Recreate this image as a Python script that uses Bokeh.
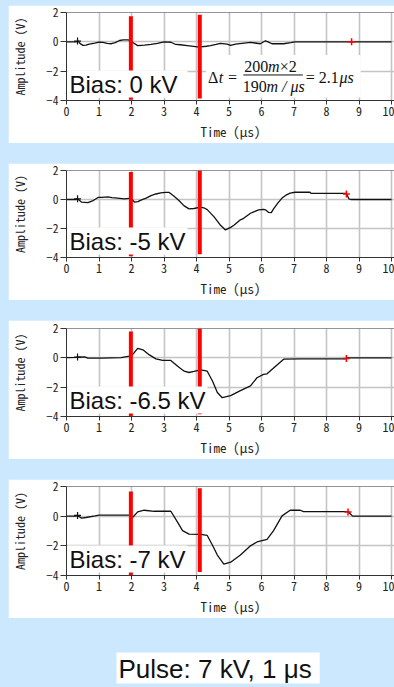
from bokeh.plotting import figure
from bokeh.models import (Range1d, FixedTicker, Label, BoxAnnotation, Span, Arrow,
                          GlobalInlineStyleSheet)
from bokeh.layouts import column
from bokeh.embed import file_html
from bokeh.resources import INLINE

BG = "#cce8ff"
MONO = "'Noto Sans Mono CJK JP', 'DejaVu Sans Mono', monospace"

# ---------------- data ----------------
t_0kv = [0, 0.3, 0.36, 0.42, 0.51, 0.6, 0.7, 0.87, 1.0, 1.12, 1.25, 1.38, 1.5, 1.63, 1.75,
         1.89, 1.98, 2.04, 2.19, 2.4, 2.6, 2.8, 3.0, 3.21, 3.36, 3.5, 3.72, 4.03, 4.13, 4.3,
         4.43, 4.6, 4.74, 4.94, 5.05, 5.2, 5.4, 5.66, 5.8, 5.96, 6.12, 6.2, 6.32, 6.5, 6.68,
         6.9, 7.03, 8.77, 10]
v_0kv = [0, 0, 0.05, -0.12, -0.24, -0.22, -0.15, -0.09, -0.02, -0.04, -0.1, -0.13, -0.05, 0.09,
         0.13, 0.13, 0.08, -0.05, -0.26, -0.22, -0.18, -0.1, 0.0, -0.03, -0.18, -0.2, -0.26,
         -0.35, -0.35, -0.3, -0.26, -0.18, -0.11, -0.15, -0.24, -0.15, -0.1, -0.04, -0.08,
         -0.13, 0.07, 0.0, -0.13, -0.12, -0.13, -0.05, 0.0, 0.0, 0.0]

t_5kv = [0, 0.3, 0.34, 0.46, 0.66, 0.8, 0.97, 1.1, 1.27, 1.4, 1.57, 1.78, 1.99, 2.09, 2.2, 2.29,
         2.45, 2.6, 2.75, 2.9, 3.05, 3.16, 3.31, 3.45, 3.62, 3.77, 3.92, 4.13, 4.25, 4.33, 4.54,
         4.74, 4.89, 5.05, 5.15, 5.35, 5.45, 5.66, 5.76, 5.91, 6.06, 6.12, 6.22, 6.3, 6.37, 6.5,
         6.63, 6.75, 6.88, 7.03, 7.49, 7.52, 8.61, 8.69, 8.75, 10]
v_5kv = [0, 0, 0.05, -0.18, -0.22, -0.1, 0.14, 0.15, 0.18, 0.13, 0.1, 0.04, 0.1, -0.18, -0.15,
         -0.04, 0.1, 0.27, 0.38, 0.45, 0.49, 0.49, 0.22, -0.05, -0.44, -0.65, -0.62, -0.53,
         -0.6, -0.7, -1.2, -1.78, -2.1, -1.92, -1.78, -1.4, -1.3, -0.95, -0.85, -0.72, -0.68,
         -0.71, -0.89, -0.9, -0.65, -0.25, 0.1, 0.3, 0.44, 0.5, 0.5, 0.42, 0.42, 0.04, 0.0, 0.0]

t_65kv = [0, 0.3, 0.34, 0.56, 0.66, 1.07, 1.68, 1.94, 2.04, 2.19, 2.35, 2.55, 2.75, 2.96, 3.21,
          3.42, 3.62, 3.77, 3.92, 4.13, 4.33, 4.49, 4.64, 4.79, 5.05, 5.35, 5.66, 5.86, 6.06,
          6.17, 6.37, 6.68, 7.19, 8.61, 8.65, 10]
v_65kv = [0.02, 0.03, 0.05, 0.07, -0.02, -0.02, 0.02, 0.11, 0.24, 0.64, 0.55, 0.2, -0.07, -0.18,
          -0.18, -0.58, -0.91, -1.0, -0.93, -0.82, -0.91, -1.58, -2.36, -2.72, -2.58, -2.24,
          -1.91, -1.36, -1.13, -1.09, -0.69, -0.09, -0.07, -0.07, 0.0, 0.0]

t_7kv = [0, 0.3, 0.34, 0.46, 0.6, 0.88, 1.0, 1.94, 2.04, 2.19, 2.39, 2.7, 3.21, 3.42, 3.57, 3.77,
         4.13, 4.33, 4.49, 4.64, 4.84, 5.05, 5.35, 5.66, 5.86, 6.17, 6.37, 6.63, 6.88, 7.19,
         7.29, 8.66, 8.8, 10]
v_7kv = [0, 0, 0.05, -0.13, -0.09, 0.02, 0.07, 0.07, -0.07, 0.29, 0.4, 0.33, 0.33, -0.42, -0.97,
         -1.21, -1.23, -1.3, -1.96, -2.62, -3.23, -3.1, -2.62, -2.0, -1.74, -1.56, -0.97, 0.02,
         0.4, 0.4, 0.31, 0.31, 0.0, 0.0]

times = [t_0kv, t_5kv, t_65kv, t_7kv]
amps = [v_0kv, v_5kv, v_65kv, v_7kv]
bias_labels = ["Bias: 0 kV", "Bias: -5 kV", "Bias: -6.5 kV", "Bias: -7 kV"]

start_mark_t = [0.34, 0.34, 0.34, 0.34]
start_mark_v = [0.05, 0.05, 0.05, 0.05]
end_mark_t = [8.77, 8.61, 8.61, 8.66]
end_mark_v = [0.0, 0.38, -0.05, 0.28]

bar_t = [1.98, 4.10]
bar_top = [[1.74, 1.85], [1.89, 2.0], [1.8, 2.0], [1.67, 1.89]]
bar_bottom = [[-3.95, -3.87], [-3.92, -3.78], [-3.97, -3.85], [-3.97, -3.76]]

x_ticks = list(range(0, 11))
y_ticks = [-4, -2, 0, 2]

# layout (pixels)
W = 386
FRAME_LEFT = 57
panel_h = [138, 137, 139, 139]
border_top = [7, 7, 8, 7]
border_bottom = [40, 40, 41, 40]
label_pad_right = [10, 2, 2, 2]


def make_panel(i):
    p = figure(width=W, height=panel_h[i], x_range=Range1d(0, 10.09), y_range=Range1d(-4, 2),
               toolbar_location=None, output_backend="svg",
               min_border_left=FRAME_LEFT, min_border_right=0,
               min_border_top=border_top[i], min_border_bottom=border_bottom[i])
    p.background_fill_color = "white"
    p.border_fill_color = "white"
    p.outline_line_color = None

    for ax in (p.xaxis[0], p.yaxis[0]):
        ax.axis_line_color = "#333333"
        ax.major_tick_line_color = "#333333"
        ax.minor_tick_line_color = None
        ax.major_tick_in = 0
        ax.major_label_text_font = MONO
        ax.major_label_text_color = "#222222"
        ax.axis_label_text_font = MONO
        ax.axis_label_text_font_style = "normal"
        ax.axis_label_text_color = "#222222"

    p.xaxis.ticker = FixedTicker(ticks=x_ticks)
    p.yaxis.ticker = FixedTicker(ticks=y_ticks)
    p.xaxis.major_label_text_font_size = "12px"
    p.xaxis.major_tick_out = 4
    p.xaxis.major_label_standoff = 2
    p.xaxis.axis_label = "Time (μs)"
    p.xaxis.axis_label_text_font_size = "13px"
    p.xaxis.axis_label_standoff = 3
    p.yaxis.major_label_text_font_size = "11.5px"
    p.yaxis.major_tick_out = 6
    p.yaxis.major_label_standoff = 2
    p.yaxis.axis_label = "Amplitude (V)"
    p.yaxis.axis_label_text_font_size = "12px"
    p.yaxis.axis_label_standoff = 15

    p.xgrid.ticker = FixedTicker(ticks=x_ticks)
    p.ygrid.ticker = FixedTicker(ticks=y_ticks)
    for g in (p.xgrid[0], p.ygrid[0]):
        g.grid_line_color = "#c4c4c4"
        g.grid_line_width = 1.6

    p.add_layout(Span(location=2, dimension="width", line_color="#333333", line_width=1))

    p.line(times[i], amps[i], line_color="#111111", line_width=1.3)
    p.scatter([start_mark_t[i]], [start_mark_v[i]], marker="cross", size=7,
              line_color="#111111", line_width=1.2)
    p.scatter([end_mark_t[i]], [end_mark_v[i]], marker="cross", size=7,
              line_color="#ff0000", line_width=1.5)
    p.segment(x0=bar_t, x1=bar_t, y0=bar_bottom[i], y1=bar_top[i],
              line_color="#ff0000", line_width=4)

    p.add_layout(Label(x=0, y=-4, x_offset=1, y_offset=3, text=bias_labels[i],
                       text_font="Liberation Sans", text_font_size="24px",
                       text_color="#111111", text_align="left", text_baseline="bottom",
                       background_fill_color="white", background_fill_alpha=1.0,
                       padding=dict(left=2, right=label_pad_right[i], top=0, bottom=0)))
    return p


panels = [make_panel(i) for i in range(4)]

# equation in the first panel
p1 = panels[0]
p1.add_layout(BoxAnnotation(left=4.29, right=9.05, top=-0.90, bottom=-3.80,
                            fill_color="white", fill_alpha=1.0, line_color=None))
SERIF = "Liberation Serif"
eq_parts = [
    ("Δ", 4.35, -2.41, "normal"),
    ("t =", 4.68, -2.41, "italic"),
    ("200", 5.47, -1.71, "normal"),
    ("m", 6.20, -1.71, "italic"),
    ("×2", 6.56, -1.71, "normal"),
    ("190", 5.42, -3.07, "normal"),
    ("m / μs", 6.15, -3.07, "italic"),
    ("= 2.1", 7.36, -2.41, "normal"),
    ("μs", 8.40, -2.41, "italic"),
]
for txt, x, y, st in eq_parts:
    p1.add_layout(Label(x=x, y=y, text=txt, text_font=SERIF, text_font_size="16px",
                        text_font_style=st, text_color="#111111",
                        text_align="left", text_baseline="middle"))
p1.add_layout(Arrow(end=None, start=None, x_start=5.44, y_start=-2.26, x_end=7.27, y_end=-2.26,
                    line_color="#111111", line_width=1))

# bottom caption (the column aligns this frame's left edge with the panels' frames)
CAP_H = 49
p5 = figure(width=W, height=CAP_H, x_range=Range1d(0, W), y_range=Range1d(0, CAP_H),
            toolbar_location=None, output_backend="svg",
            min_border_left=0, min_border_right=0, min_border_top=0, min_border_bottom=0,
            x_axis_location=None, y_axis_location=None)
p5.grid.visible = False
p5.outline_line_color = None
p5.background_fill_color = BG
p5.border_fill_color = BG
p5.add_layout(Label(x=107 - FRAME_LEFT, y=4, x_units="screen", y_units="screen",
                    text="Pulse: 7 kV, 1 μs", text_font="Liberation Sans",
                    text_font_size="26px", text_color="#111111",
                    text_align="left", text_baseline="bottom",
                    background_fill_color="white", background_fill_alpha=1.0,
                    padding=dict(left=2, right=8, top=1, bottom=0)))

css = GlobalInlineStyleSheet(css=f"html, body {{ background-color: {BG}; }}")
layout = column(*panels, p5, spacing=20, margin=(5, 0, 0, 8), stylesheets=[css])

open("out.html", "w").write(file_html(layout, INLINE))
